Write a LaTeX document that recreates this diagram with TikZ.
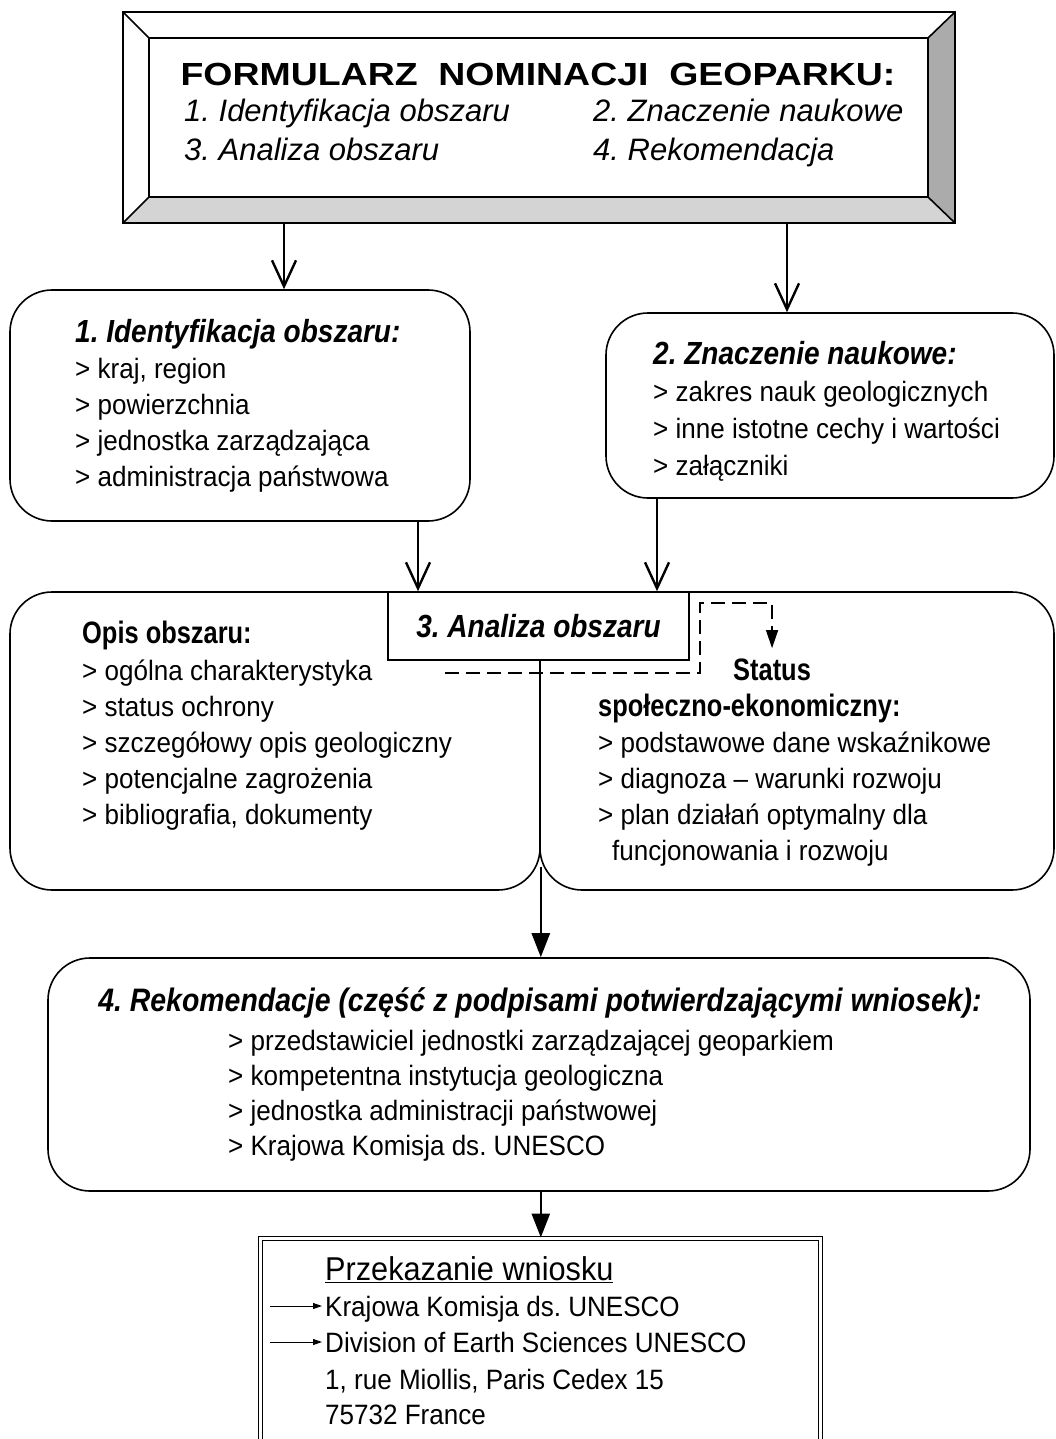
\documentclass[tikz,border=0pt]{standalone}
\usepackage{fontspec}
\setmainfont{Liberation Sans}[FakeStretch=0.93]
\newfontfamily\headfont{Liberation Sans}[FakeStretch=0.875]
\newfontfamily\subfont{Liberation Sans}[FakeStretch=0.82]
\newfontfamily\itemfont{Liberation Sans}
\newfontfamily\heavyfont{Liberation Sans}[UprightFont={* Bold}, FakeStretch=1.17]
\usetikzlibrary{arrows.meta, positioning}

\definecolor{bevellight}{gray}{0.83}
\definecolor{beveldark}{gray}{0.67}

\tikzset{
  box/.style={draw, line width=1.6pt},
  roundbox/.style={box, rounded corners=42pt},
  openarrow/.style={line width=2.4pt, -{Straight Barb[length=26pt,width=24pt]}},
  fillarrow/.style={line width=2.6pt, -{Triangle[length=24pt,width=18pt]}},
  dasharrow/.style={line width=1.3pt, dash pattern=on 14pt off 7pt, -{Triangle[length=18pt,width=12pt]}},
  smallarrow/.style={line width=1pt, -{Triangle[length=9pt,width=6pt]}},
  txt/.style={anchor=base west, inner sep=0pt, font=\fontsize{28}{36}\selectfont},
  head/.style={txt, font=\headfont\fontsize{32}{36}\selectfont\bfseries\itshape},
  subhead/.style={txt, font=\subfont\fontsize{31}{36}\selectfont\bfseries},
  item/.style={txt, font=\itemfont\fontsize{31}{40}\selectfont\itshape}
}

\begin{document}
\frenchspacing
\begin{tikzpicture}[x=1pt, y=-1pt]
        \useasboundingbox (0,0) rectangle (1055,1439);

        % Ramka formularza (wypukla)
        \node[minimum width=832, minimum height=211, inner sep=0pt] (frame) at (539,117.5) {};
        \node[minimum width=779, minimum height=159, inner sep=0pt] (form) at (538.5,117.5) {};
        \fill[bevellight] (frame.south west) -- (form.south west) -- (form.south east) -- (frame.south east) -- cycle;
        \fill[beveldark] (frame.north east) -- (form.north east) -- (form.south east) -- (frame.south east) -- cycle;
        \draw[box] (frame.north west) rectangle (frame.south east);
        \draw[box] (form.north west) rectangle (form.south east);
        \draw[box] (frame.north west) -- (form.north west);
        \draw[box] (frame.north east) -- (form.north east);
        \draw[box] (frame.south west) -- (form.south west);
        \draw[box] (frame.south east) -- (form.south east);

        % Tytul i punkty formularza
        \node[anchor=base, inner sep=0pt, font=\heavyfont\fontsize{32}{36}\selectfont] (title) at (538,86) {FORMULARZ\ \ NOMINACJI\ \ GEOPARKU:};
        \node[item] (f1) at (184,122) {1. Identyfikacja obszaru};
        \node[item] (f2) at (593,122) {2. Znaczenie naukowe};
        \node[item] (f3) at (184,161) {3. Analiza obszaru};
        \node[item] (f4) at (593,161) {4. Rekomendacja};

        % Pola 1 i 2
        \node[roundbox, minimum width=460, minimum height=231] (ident) at (240,405.5) {};
        \node[roundbox, minimum width=448, minimum height=185] (znacz) at (830,405.5) {};

        \node[head] (identhead) at (75,342) {1. Identyfikacja obszaru:};
        \foreach \t [count=\i] in {{> kraj, region}, {> powierzchnia}, {> jednostka zarządzająca}, {> administracja państwowa}}
            \node[txt] (ident\i) at (75,{378+36*(\i-1)}) {\t};

        \node[head] (znaczhead) at (653,364) {2. Znaczenie naukowe:};
        \foreach \t [count=\i] in {{> zakres nauk geologicznych}, {> inne istotne cechy i wartości}, {> załączniki}}
            \node[txt] (znacz\i) at (653,{401+37*(\i-1)}) {\t};

        % Pole 3: opis obszaru i status
        \node[roundbox, minimum width=530, minimum height=298] (opis) at (275,741) {};
        \node[roundbox, minimum width=514, minimum height=298] (status) at (797,741) {};
        \node[box, fill=white, minimum width=301, minimum height=68, font=\headfont\fontsize{32}{36}\selectfont\bfseries\itshape] (analiza) at (538.5,626) {3. Analiza obszaru};

        \node[subhead] (opishead) at (82,643) {Opis obszaru:};
        \foreach \t [count=\i] in {{> ogólna charakterystyka}, {> status ochrony}, {> szczegółowy opis geologiczny}, {> potencjalne zagrożenia}, {> bibliografia, dokumenty}}
            \node[txt] (opis\i) at (82,{680+36*(\i-1)}) {\t};

        \node[subhead] (stathead) at (733,680) {Status};
        \node[subhead] (stathead2) at (598,716) {społeczno-ekonomiczny:};
        \foreach \t [count=\i] in {{> podstawowe dane wskaźnikowe}, {> diagnoza – warunki rozwoju}, {> plan działań optymalny dla}}
            \node[txt] (stat\i) at (598,{752+36*(\i-1)}) {\t};
        \node[txt] (stat4) at (612,860) {funcjonowania i rozwoju};

        % Pole 4
        \node[roundbox, minimum width=982, minimum height=233] (rekom) at (539,1074.5) {};
        \node[anchor=base, inner sep=0pt, font=\headfont\fontsize{32.5}{36}\selectfont\bfseries\itshape] (rekomhead) at (540,1011) {4. Rekomendacje (część z podpisami potwierdzającymi wniosek):};
        \foreach \t [count=\i] in {{> przedstawiciel jednostki zarządzającej geoparkiem}, {> kompetentna instytucja geologiczna}, {> jednostka administracji państwowej}, {> Krajowa Komisja ds. UNESCO}}
            \node[txt] (rekom\i) at (228,{1050+35*(\i-1)}) {\t};

        % Przekazanie wniosku
        \node[draw, double, double distance=3pt, line width=1pt, minimum width=560, minimum height=240] (przek) at (540,1358) {};
        \node[txt, font=\fontsize{33}{36}\selectfont] (przekhead) at (325,1280) {\underline{Przekazanie wniosku}};
        \node[txt] (adr1) at (325,1316) {Krajowa Komisja ds. UNESCO};
        \node[txt] (adr2) at (325,1352) {Division of Earth Sciences UNESCO};
        \node[txt] (adr3) at (325,1389) {1, rue Miollis, Paris Cedex 15};
        \node[txt] (adr4) at (325,1424) {75732 France};
        \coordinate (p1) at (270,1306);
        \coordinate (p2) at (270,1342);
        \draw[smallarrow] (p1) -- ([xshift=-3pt]adr1.west |- p1);
        \draw[smallarrow] (p2) -- ([xshift=-3pt]adr2.west |- p2);

        % Strzalki
        \coordinate (c1) at (284,0);
        \coordinate (c2) at (787,0);
        \coordinate (c3) at (418,0);
        \coordinate (c4) at (657,0);
        \draw[openarrow] (frame.south -| c1) -- (ident.north -| c1);
        \draw[openarrow] (frame.south -| c2) -- (znacz.north -| c2);
        \draw[openarrow] (ident.south -| c3) -- (analiza.north -| c3);
        \draw[openarrow] (znacz.south -| c4) -- (analiza.north -| c4);

        \coordinate (split) at ([yshift=24pt]opis.south east);
        \draw[fillarrow] (split) -- (split |- rekom.north);
        \draw[fillarrow] (rekom.south -| split) -- (przek.north -| split);

        % Strzalka przerywana do statusu
        \coordinate (dstart) at (445,673);
        \draw[dasharrow] (dstart) -| (700,603) -| ([yshift=10pt]stathead.north);
    \end{tikzpicture}
\end{document}
